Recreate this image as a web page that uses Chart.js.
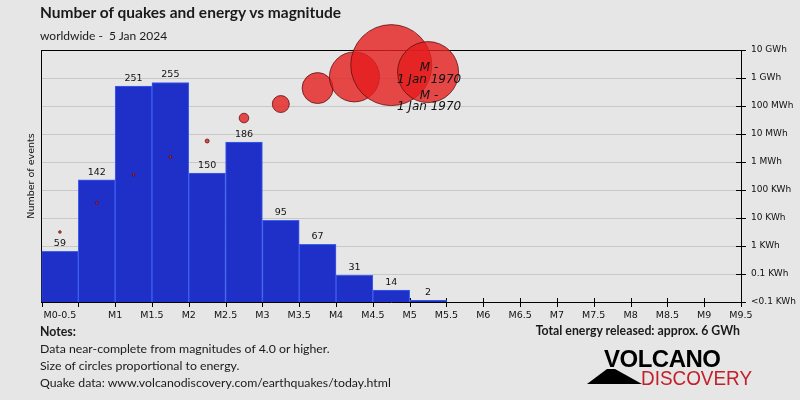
<!DOCTYPE html>
<html>
<head>
<meta charset="utf-8">
<title>Number of quakes and energy vs magnitude</title>
<script src="https://cdn.jsdelivr.net/npm/chart.js@4.4.1/dist/chart.umd.min.js"></script>
<style>
  body { margin: 0; background: #e6e6e6; }
  #wrap { position: relative; width: 800px; height: 400px; font-family: Lato, "Open Sans", sans-serif; color: #1a1a1a; overflow: hidden; }
  #chartBox { position: absolute; left: 0; top: 0; width: 800px; height: 400px; }
  .txt { position: absolute; white-space: nowrap; }
  #title { left: 40px; top: 3px; font-size: 15.5px; font-weight: bold; }
  #subtitle { left: 40px; top: 28px; font-size: 12px; }
  #notes { left: 40px; top: 323px; font-size: 12.3px; line-height: 17px; }
  #total { right: 60px; top: 323px; font-size: 12.3px; font-weight: bold; }
  #logo1 { left: 604px; top: 345px; font-family: "Liberation Sans", Arial, sans-serif; font-weight: bold; font-size: 24px; letter-spacing: -0.5px; color: #000; }
  #logo2 { left: 641px; top: 366px; font-family: "Liberation Sans", Arial, sans-serif; font-size: 21px; color: #c4202b; transform: scaleX(0.9); transform-origin: left top; }
  #logoMark { position: absolute; left: 585px; top: 366px; }
</style>
</head>
<body>
<div id="wrap">
  <div id="chartBox"><canvas id="myChart" width="800" height="400"></canvas></div>
  <div class="txt" id="title">Number of quakes and energy vs magnitude</div>
  <div class="txt" id="subtitle">worldwide -&nbsp; 5 Jan 2024</div>
  <div class="txt" id="notes"><b>Notes:</b><br>Data near-complete from magnitudes of 4.0 or higher.<br>Size of circles proportional to energy.<br>Quake data: www.volcanodiscovery.com/earthquakes/today.html</div>
  <div class="txt" id="total">Total energy released: approx. 6 GWh</div>
  <svg id="logoMark" width="60" height="20"><polygon points="2,18 22,3 30,3 57,18" fill="#000"/></svg>
  <div class="txt" id="logo1">VOLCANO</div>
  <div class="txt" id="logo2">DISCOVERY</div>
</div>
<script>
// magnitude bins (centre of each 0.5 bin)
const binCenters = [0.25, 0.75, 1.25, 1.75, 2.25, 2.75, 3.25, 3.75, 4.25, 4.75, 5.25];
const eventCounts = [59, 142, 251, 255, 150, 186, 95, 67, 31, 14, 2];
// energy per bin as log10(KWh)
const energyLog = [0.5, 1.54, 2.54, 3.18, 3.75, 4.57, 5.07, 5.64, 6.04, 6.46, 6.21];
const bubbleRadius = [1.3, 1.3, 1.3, 1.4, 2, 4.8, 8.5, 15.5, 25, 40.5, 30.5];

const xLabelValues = [0.25, 1, 1.5, 2, 2.5, 3, 3.5, 4, 4.5, 5, 5.5, 6, 6.5, 7, 7.5, 8, 8.5, 9, 9.5];
const xLabels = ['M0-0.5', 'M1', 'M1.5', 'M2', 'M2.5', 'M3', 'M3.5', 'M4', 'M4.5', 'M5', 'M5.5',
                 'M6', 'M6.5', 'M7', 'M7.5', 'M8', 'M8.5', 'M9', 'M9.5'];
const energyLabels = ['<0.1 KWh', '0.1 KWh', '1 KWh', '10 KWh', '100 KWh', '1 MWh', '10 MWh',
                      '100 MWh', '1 GWh', '10 GWh'];
const annotationLines = ['M -', '1 Jan 1970', 'M -', '1 Jan 1970'];

const tickFont = { family: 'DejaVu Sans', size: 9.5 };

// frame, tick crosses (under the bubbles)
const framePlugin = {
    id: 'frame',
    beforeDatasetsDraw(chart) {
        const { ctx, chartArea, scales } = chart;
        ctx.save();
        ctx.strokeStyle = '#000';
        ctx.lineWidth = 1;
        ctx.beginPath();
        ctx.moveTo(chartArea.left, chartArea.top + 0.5);
        ctx.lineTo(chartArea.right, chartArea.top + 0.5);
        // x ticks every half magnitude
        for (let m = 0; m <= 9.5; m += 0.5) {
            const px = Math.round(scales.x.getPixelForValue(m)) + 0.5;
            ctx.moveTo(px, chartArea.bottom - 4);
            ctx.lineTo(px, chartArea.bottom + 5);
        }
        // right axis crosses
        for (let v = -2; v <= 7; v++) {
            const py = Math.round(scales.y2.getPixelForValue(v)) + 0.5;
            ctx.moveTo(chartArea.right - 5, py);
            ctx.lineTo(chartArea.right + 5, py);
        }
        ctx.stroke();
        ctx.restore();
    },
    afterDatasetsDraw(chart) {
        const { ctx } = chart;
        ctx.save();
        // counts above bars
        ctx.font = '9.5px "DejaVu Sans"';
        ctx.fillStyle = '#111';
        ctx.textAlign = 'center';
        ctx.textBaseline = 'bottom';
        chart.getDatasetMeta(0).data.forEach((bar, i) => {
            ctx.fillText(String(eventCounts[i]), bar.x, bar.y - 3);
        });
        // labels on the largest bubble
        const big = chart.getDatasetMeta(1).data[binCenters.length - 1];
        ctx.font = 'italic 12px "DejaVu Sans"';
        ctx.textBaseline = 'middle';
        const offsets = [-4, 8, 24, 35];
        annotationLines.forEach((t, i) => ctx.fillText(t, big.x + 1, big.y + offsets[i]));
        ctx.restore();
    }
};

new Chart(document.getElementById('myChart'), {
    data: {
        datasets: [
            {
                type: 'bar',
                data: binCenters.map((x, i) => ({ x: x, y: eventCounts[i] })),
                backgroundColor: 'rgb(31,48,200)',
                borderColor: 'rgb(62,96,238)',
                borderWidth: 1,
                barPercentage: 1,
                categoryPercentage: 1,
                yAxisID: 'y',
                order: 2
            },
            {
                type: 'bubble',
                data: binCenters.map((x, i) => ({ x: x, y: energyLog[i], r: bubbleRadius[i] })),
                backgroundColor: 'rgba(229,30,30,0.8)',
                borderColor: 'rgba(90,10,10,0.75)',
                borderWidth: 1,
                yAxisID: 'y2',
                clip: false,
                order: 1
            }
        ]
    },
    options: {
        responsive: false,
        animation: false,
        events: [],
        layout: { padding: { top: 50, left: 0, right: 0, bottom: 0 } },
        plugins: { legend: { display: false }, tooltip: { enabled: false } },
        scales: {
            x: {
                type: 'linear',
                offset: false,
                min: 0,
                max: 9.5,
                afterBuildTicks: (scale) => { scale.ticks = xLabelValues.map(v => ({ value: v })); },
                afterFit: (scale) => { scale.height = 98; },
                grid: { display: false },
                border: { display: true, color: '#000' },
                ticks: {
                    autoSkip: false,
                    maxRotation: 0,
                    padding: 0,
                    color: '#111',
                    font: tickFont,
                    callback: (v, i) => xLabels[i]
                }
            },
            y: {
                position: 'left',
                min: 0,
                max: 293,
                afterFit: (scale) => { scale.width = 40; },
                grid: { display: false },
                border: { display: true, color: '#000' },
                ticks: { display: false },
                title: {
                    display: true,
                    text: 'Number of events',
                    color: '#111',
                    font: { family: 'DejaVu Sans', size: 9.5 },
                    padding: { top: 24, bottom: 0 }
                }
            },
            y2: {
                position: 'right',
                min: -2,
                max: 7,
                afterFit: (scale) => { scale.width = 59; },
                grid: { color: '#c8c8c8', drawTicks: false },
                border: { display: true, color: '#000' },
                ticks: {
                    stepSize: 1,
                    padding: 10,
                    color: '#111',
                    font: { family: 'DejaVu Sans', size: 9 },
                    callback: (v) => energyLabels[v + 2]
                }
            }
        }
    },
    plugins: [framePlugin]
});
</script>
</body>
</html>
